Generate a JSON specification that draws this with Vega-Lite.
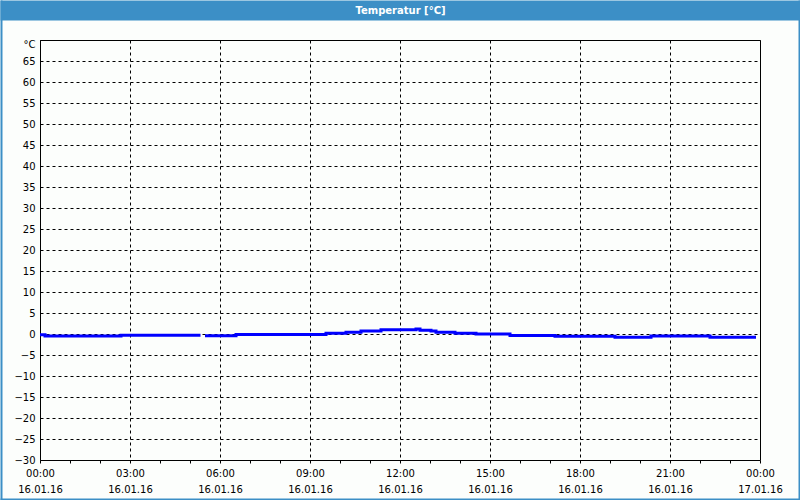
{
  "$schema": "https://vega.github.io/schema/vega-lite/v6.json",
  "width": 720,
  "height": 420,
  "autosize": {"type": "none"},
  "padding": {"left": 40, "top": 40, "right": 40, "bottom": 40},
  "background": "#fcfefc",
  "config": {
    "view": {"stroke": "black", "strokeWidth": 1, "fill": null},
    "axis": {"labelFont": "DejaVu Sans", "labelFontSize": 10, "labelColor": "black", "titleFont": "DejaVu Sans"}
  },
  "data": {
    "values": [
      {"time": "2016-01-16T00:00:00Z", "temp": -0.2},
      {"time": "2016-01-16T00:10:00Z", "temp": -0.5},
      {"time": "2016-01-16T02:42:00Z", "temp": -0.3},
      {"time": "2016-01-16T05:21:00Z", "temp": -0.3},
      {"time": "2016-01-16T05:25:00Z", "temp": null},
      {"time": "2016-01-16T05:30:00Z", "temp": -0.4},
      {"time": "2016-01-16T06:32:00Z", "temp": -0.1},
      {"time": "2016-01-16T09:32:00Z", "temp": 0.2},
      {"time": "2016-01-16T10:12:00Z", "temp": 0.4},
      {"time": "2016-01-16T10:42:00Z", "temp": 0.7},
      {"time": "2016-01-16T11:22:00Z", "temp": 1.0},
      {"time": "2016-01-16T12:32:00Z", "temp": 1.2},
      {"time": "2016-01-16T12:40:00Z", "temp": 0.9},
      {"time": "2016-01-16T13:02:00Z", "temp": 0.7},
      {"time": "2016-01-16T13:12:00Z", "temp": 0.4},
      {"time": "2016-01-16T13:50:00Z", "temp": 0.2},
      {"time": "2016-01-16T14:32:00Z", "temp": 0.0},
      {"time": "2016-01-16T15:40:00Z", "temp": -0.35},
      {"time": "2016-01-16T17:10:00Z", "temp": -0.55},
      {"time": "2016-01-16T19:10:00Z", "temp": -0.75},
      {"time": "2016-01-16T20:22:00Z", "temp": -0.5},
      {"time": "2016-01-16T22:20:00Z", "temp": -0.75},
      {"time": "2016-01-16T23:52:00Z", "temp": -0.75}
    ]
  },
  "layer": [
    {
      "mark": {"type": "line", "interpolate": "step-after", "color": "#0000ff", "strokeWidth": 3},
      "encoding": {
        "x": {
          "field": "time", "type": "temporal",
          "scale": {"type": "utc", "nice": false, "domain": [{"year": 2016, "month": 1, "date": 16, "utc": true}, {"year": 2016, "month": 1, "date": 17, "utc": true}]},
          "axis": {
            "title": null,
            "domain": false,
            "values": [
              {"year": 2016, "month": 1, "date": 16, "hours": 0, "utc": true},
              {"year": 2016, "month": 1, "date": 16, "hours": 1, "utc": true},
              {"year": 2016, "month": 1, "date": 16, "hours": 2, "utc": true},
              {"year": 2016, "month": 1, "date": 16, "hours": 3, "utc": true},
              {"year": 2016, "month": 1, "date": 16, "hours": 4, "utc": true},
              {"year": 2016, "month": 1, "date": 16, "hours": 5, "utc": true},
              {"year": 2016, "month": 1, "date": 16, "hours": 6, "utc": true},
              {"year": 2016, "month": 1, "date": 16, "hours": 7, "utc": true},
              {"year": 2016, "month": 1, "date": 16, "hours": 8, "utc": true},
              {"year": 2016, "month": 1, "date": 16, "hours": 9, "utc": true},
              {"year": 2016, "month": 1, "date": 16, "hours": 10, "utc": true},
              {"year": 2016, "month": 1, "date": 16, "hours": 11, "utc": true},
              {"year": 2016, "month": 1, "date": 16, "hours": 12, "utc": true},
              {"year": 2016, "month": 1, "date": 16, "hours": 13, "utc": true},
              {"year": 2016, "month": 1, "date": 16, "hours": 14, "utc": true},
              {"year": 2016, "month": 1, "date": 16, "hours": 15, "utc": true},
              {"year": 2016, "month": 1, "date": 16, "hours": 16, "utc": true},
              {"year": 2016, "month": 1, "date": 16, "hours": 17, "utc": true},
              {"year": 2016, "month": 1, "date": 16, "hours": 18, "utc": true},
              {"year": 2016, "month": 1, "date": 16, "hours": 19, "utc": true},
              {"year": 2016, "month": 1, "date": 16, "hours": 20, "utc": true},
              {"year": 2016, "month": 1, "date": 16, "hours": 21, "utc": true},
              {"year": 2016, "month": 1, "date": 16, "hours": 22, "utc": true},
              {"year": 2016, "month": 1, "date": 16, "hours": 23, "utc": true},
              {"year": 2016, "month": 1, "date": 17, "hours": 0, "utc": true}
            ],
            "labelExpr": "utchours(datum.value) % 3 == 0 ? [utcFormat(datum.value, '%H:%M'), utcFormat(datum.value, '%d.%m.%y')] : ''",
            "labelOverlap": false,
            "labelFlush": false,
            "labelLineHeight": 16,
            "labelPadding": 5,
            "tickSize": 3,
            "tickColor": "black",
            "grid": true,
            "gridColor": "black",
            "gridDash": [3, 3],
            "gridOpacity": {"condition": {"test": "utchours(datum.value) % 3 == 0", "value": 1}, "value": 0}
          }
        },
        "y": {
          "field": "temp", "type": "quantitative",
          "scale": {"domain": [-30, 70], "nice": false, "zero": false},
          "axis": {
            "title": null,
            "domain": false,
            "ticks": false,
            "values": [-30, -25, -20, -15, -10, -5, 0, 5, 10, 15, 20, 25, 30, 35, 40, 45, 50, 55, 60, 65, 70],
            "labelExpr": "datum.value == 70 ? '°C' : datum.label",
            "labelOffset": {"condition": {"test": "datum.value == 70", "value": 4}, "value": 0},
            "labelOverlap": false,
            "labelFlush": false,
            "labelPadding": 5,
            "grid": true,
            "gridColor": "black",
            "gridDash": [3, 3]
          }
        }
      }
    },
    {
      "mark": {"type": "line", "interpolate": "step-after", "opacity": 0},
      "encoding": {
        "x": {
          "field": "time", "type": "temporal",
          "scale": {"type": "utc", "nice": false, "domain": [{"year": 2016, "month": 1, "date": 16, "utc": true}, {"year": 2016, "month": 1, "date": 17, "utc": true}]},
          "axis": {
            "orient": "top",
            "offset": 20,
            "values": [{"year": 2016, "month": 1, "date": 16, "hours": 12, "utc": true}],
            "domain": false,
            "grid": false,
            "labels": false,
            "ticks": true,
            "tickSize": 20,
            "tickWidth": 800,
            "tickColor": "#3c8fc6",
            "tickCap": "butt",
            "title": "Temperatur [°C]",
            "titleColor": "white",
            "titleFontSize": 10,
            "titleFontWeight": "bold",
            "titleX": 360,
            "titleY": -10,
            "titleAlign": "center",
            "titleBaseline": "middle"
          }
        },
        "y": {
          "field": "temp", "type": "quantitative",
          "scale": {"domain": [-30, 70], "nice": false, "zero": false},
          "axis": {
            "orient": "right",
            "offset": 38,
            "values": [20],
            "domain": false,
            "grid": false,
            "labels": false,
            "tickSize": 2,
            "tickWidth": 500,
            "tickColor": "#3c8fc6",
            "tickCap": "butt",
            "title": null
          }
        }
      }
    },
    {
      "mark": {"type": "line", "interpolate": "step-after", "opacity": 0},
      "encoding": {
        "x": {
          "field": "time", "type": "temporal",
          "scale": {"type": "utc", "nice": false, "domain": [{"year": 2016, "month": 1, "date": 16, "utc": true}, {"year": 2016, "month": 1, "date": 17, "utc": true}]},
          "axis": {
            "orient": "bottom",
            "offset": 38,
            "values": [{"year": 2016, "month": 1, "date": 16, "hours": 12, "utc": true}],
            "domain": false,
            "grid": false,
            "labels": false,
            "tickSize": 2,
            "tickWidth": 800,
            "tickColor": "#3c8fc6",
            "tickCap": "butt",
            "title": null
          }
        },
        "y": {
          "field": "temp", "type": "quantitative",
          "scale": {"domain": [-30, 70], "nice": false, "zero": false},
          "axis": {
            "orient": "left",
            "offset": 38,
            "values": [20],
            "domain": false,
            "grid": false,
            "labels": false,
            "tickSize": 2,
            "tickWidth": 500,
            "tickColor": "#3c8fc6",
            "tickCap": "butt",
            "title": null
          }
        }
      }
    }
  ],
  "resolve": {"axis": {"x": "independent", "y": "independent"}}
}
